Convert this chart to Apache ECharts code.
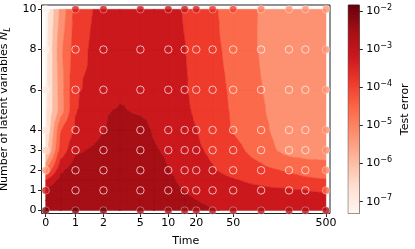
<!DOCTYPE html>
<html><head><meta charset="utf-8">
<script src="https://cdn.jsdelivr.net/npm/echarts@6/dist/echarts.min.js"></script>
<style>html,body{margin:0;padding:0;background:#fff}#c{width:415px;height:249px}</style>
</head><body><div id="c"></div><script>
// ---------- data ----------
const surfTimes   = [0, 0.5, 1, 2, 3, 5, 7, 10, 15, 20, 30, 50, 100, 200, 300, 500];
const surfLatents = [0, 0.5, 1, 1.5, 2, 3, 4, 5, 6, 8, 10];
// log10(test error) of the predicted surface, one row per latent value
const surfN0   = [-2.25,-2.25,-2.25,-2.28,-2.3,-2.35,-2.4,-2.5,-2.6,-2.7,-2.83,-2.95,-3.05,-3.1,-3.12,-3.15];
const surfN0_5 = [-2.4,-2.35,-2.3,-2.3,-2.3,-2.35,-2.4,-2.55,-2.7,-2.87,-3.0,-3.1,-3.2,-3.25,-3.3,-3.35];
const surfN1   = [-2.6,-2.4,-2.3,-2.25,-2.25,-2.3,-2.4,-2.6,-2.9,-3.05,-3.2,-3.3,-3.4,-3.48,-3.55,-3.62];
const surfN1_5 = [-3.6,-2.6,-2.35,-2.25,-2.25,-2.3,-2.45,-2.7,-3.07,-3.2,-3.35,-3.5,-3.72,-3.95,-4.1,-4.2];
const surfN2   = [-5.0,-3.0,-2.45,-2.3,-2.35,-2.4,-2.55,-2.85,-3.1,-3.3,-3.5,-3.75,-4.05,-4.34,-4.5,-4.6];
const surfN3   = [-6.7,-4.0,-3.0,-2.65,-2.45,-2.5,-2.8,-2.99,-3.25,-3.45,-3.67,-4.0,-4.59,-5.19,-5.25,-5.25];
const surfN4   = [-7.1,-4.3,-3.45,-2.9,-2.57,-2.6,-2.95,-3.1,-3.3,-3.54,-3.85,-4.29,-4.75,-5.32,-5.35,-5.35];
const surfN5   = [-7.15,-5.3,-3.6,-2.95,-2.81,-2.98,-3.0,-3.1,-3.4,-3.68,-3.95,-4.32,-4.85,-5.29,-5.3,-5.3];
const surfN6   = [-7.2,-5.25,-3.62,-3.32,-3.0,-3.0,-3.05,-3.15,-3.45,-3.82,-4.0,-4.35,-4.9,-5.27,-5.3,-5.3];
const surfN8   = [-7.25,-5.1,-3.87,-3.16,-3.05,-3.0,-3.05,-3.2,-3.53,-3.75,-4.05,-4.48,-4.98,-5.2,-5.25,-5.3];
const surfN10  = [-7.32,-5.43,-4.0,-3.28,-3.2,-3.15,-3.15,-3.25,-3.62,-3.8,-4.1,-4.66,-4.97,-5.2,-5.25,-5.3];
const surfLogErr = [surfN0, surfN0_5, surfN1, surfN1_5, surfN2, surfN3, surfN4, surfN5, surfN6, surfN8, surfN10];

const obsTimes   = [0, 1, 2, 5, 10, 15, 20, 30, 50, 100, 200, 300, 500];
const obsLatents = [0, 1, 2, 3, 4, 6, 8, 10];
// log10(test error) of the filled (edge) points
const obsLeft   = [-1.95,-3.27,-5.35,-6.34,-6.78,-6.94,-7.16,-7.31];          // time 0, by latent
const obsRight  = [-2.72,-4.47,-5.0,-5.1,-5.2,-5.27,-5.27,-5.27];             // time 500, by latent
const obsBottom = [-1.95,-2.0,-2.05,-2.35,-2.45,-2.5,-2.55,-2.6,-2.65,-2.7,-2.7,-2.72,-2.72]; // latent 0, by time
const obsTop    = [-7.31,-3.43,-3.21,-3.1,-3.05,-3.1,-3.3,-3.7,-4.0,-4.9,-5.3,-5.3,-5.27];   // latent 10, by time

const xTicks = [0, 1, 2, 5, 10, 20, 50, 500];
const yTicks = [0, 1, 2, 3, 4, 6, 8, 10];
const cbarTicks = [-7, -6, -5, -4, -3, -2];
const contourLevels = [-6.98, -6.29, -5.61, -4.92, -4.24, -3.55, -2.87, -2.18];
const colorMin = -7.31, colorMax = -1.843;

// ---------- helpers ----------
const FONT = 'DejaVu Sans';
const FS = 11;
const LIN = 0.3215;
const sx = t => t <= 1 ? t * LIN : LIN + Math.log10(t);
const REDS = ['#fff5f0','#fee0d2','#fcbba1','#fc9272','#fb6a4a','#ef3b2c','#cb181d','#a50f15','#67000d'];
const REDS_RGB = REDS.map(h => [1,3,5].map(i => parseInt(h.slice(i, i+2), 16)));
function reds(f) {
  f = Math.max(0, Math.min(1, f));
  const p = f * 8, i = Math.min(7, Math.floor(p)), t = p - i;
  const a = REDS_RGB[i], b = REDS_RGB[i+1];
  return 'rgb(' + a.map((v, k) => Math.round(v + t * (b[k] - v))).join(',') + ')';
}
const norm = v => (v - colorMin) / (colorMax - colorMin);

function clip(poly, level, keepAbove) {
  const out = [];
  for (let i = 0; i < poly.length; i++) {
    const a = poly[i], b = poly[(i + 1) % poly.length];
    const ina = keepAbove ? a[2] >= level : a[2] < level;
    const inb = keepAbove ? b[2] >= level : b[2] < level;
    if (ina) out.push(a);
    if (ina !== inb) {
      const t = (level - a[2]) / (b[2] - a[2]);
      out.push([a[0] + t * (b[0] - a[0]), a[1] + t * (b[1] - a[1]), level]);
    }
  }
  return out;
}

function renderContour(params, api) {
  const P = surfLatents.map((n, j) => surfTimes.map((t, i) => {
    const c = api.coord([sx(t), n]);
    return [c[0], c[1], surfLogErr[j][i]];
  }));
  const nb = contourLevels.length + 1;
  const paths = Array.from({length: nb}, () => []);
  for (let j = 0; j < surfLatents.length - 1; j++) {
    for (let i = 0; i < surfTimes.length - 1; i++) {
      const a = P[j][i], b = P[j][i+1], c = P[j+1][i+1], d = P[j+1][i];
      const m = [0,1,2].map(k => (a[k] + b[k] + c[k] + d[k]) / 4);
      for (const tri of [[a,b,m],[b,c,m],[c,d,m],[d,a,m]]) {
        for (let k = 0; k < nb; k++) {
          let poly = tri;
          if (k > 0) poly = clip(poly, contourLevels[k-1], true);
          if (poly.length < 3) continue;
          if (k < nb - 1) poly = clip(poly, contourLevels[k], false);
          if (poly.length < 3) continue;
          paths[k].push('M' + poly.map(p => p[0].toFixed(2) + ' ' + p[1].toFixed(2)).join('L') + 'Z');
        }
      }
    }
  }
  const children = [];
  paths.forEach((p, k) => {
    if (p.length) children.push({type: 'path', shape: {pathData: p.join('')},
      style: {fill: REDS[k], stroke: REDS[k], lineWidth: 0.5}});
  });
  return {type: 'group', children};
}

function renderCbar(params, api) {
  const p0 = api.coord([0, colorMax]), p1 = api.coord([1, colorMin]);
  return {type: 'rect', shape: {x: p0[0], y: p0[1], width: p1[0] - p0[0], height: p1[1] - p0[1]},
    style: {fill: {type: 'linear', x: 0, y: 0, x2: 0, y2: 1,
      colorStops: REDS.slice().reverse().map((c, i) => ({offset: i / 8, color: c}))}}};
}

// points
const filled = [], hollow = [];
obsLatents.forEach((n, j) => obsTimes.forEach((t, i) => {
  let v = null;
  if (i === 0) v = obsLeft[j];
  else if (i === obsTimes.length - 1) v = obsRight[j];
  else if (j === 0) v = obsBottom[i];
  else if (j === obsLatents.length - 1) v = obsTop[i];
  if (v === null) hollow.push([sx(t), n]); else filled.push([sx(t), n, v]);
}));

const tickStyle = {show: true, inside: false, length: 3.5, lineStyle: {color: '#222', width: 1}};
const labelBase = {color: '#000', fontFamily: FONT, fontSize: FS};

const chart = echarts.init(document.getElementById('c'), null, {renderer: 'canvas'});
chart.setOption({
  animation: false,
  backgroundColor: '#fff',
  grid: [
    {left: 41.5, top: 5, width: 288.5, height: 208.5, show: true, borderColor: '#222', borderWidth: 1,
     backgroundColor: 'transparent', containLabel: false, outerBoundsMode: 'none'},
    {left: 348.3, top: 5, width: 11, height: 208.5, show: true, borderColor: '#333', borderWidth: 1,
     backgroundColor: 'transparent', containLabel: false, outerBoundsMode: 'none'}
  ],
  xAxis: [
    {type: 'value', gridIndex: 0, min: -0.045, max: 3.064,
     axisLine: {show: false, onZero: false}, splitLine: {show: false},
     axisTick: Object.assign({customValues: xTicks.map(sx)}, tickStyle),
     axisLabel: Object.assign({customValues: xTicks.map(sx), margin: 4,
       formatter: v => { const t = xTicks.find(q => Math.abs(sx(q) - v) < 1e-6); return t === undefined ? '' : String(t); }}, labelBase),
     name: 'Time', nameLocation: 'middle', nameGap: 22, nameTextStyle: labelBase},
    {type: 'value', gridIndex: 1, min: 0, max: 1, show: false}
  ],
  yAxis: [
    {type: 'value', gridIndex: 0, min: -0.149, max: 10.214,
     axisLine: {show: false, onZero: false}, splitLine: {show: false},
     axisTick: Object.assign({customValues: yTicks}, tickStyle),
     axisLabel: Object.assign({customValues: yTicks, margin: 5}, labelBase),
     name: '{a|Number of latent variables }{n|N}{l|L}', nameLocation: 'middle', nameRotate: 90, nameGap: 23,
     nameTextStyle: Object.assign({rich: {
       a: {fontFamily: FONT, fontSize: FS, color: '#000', lineHeight: 14},
       n: {fontFamily: FONT, fontSize: FS, color: '#000', fontStyle: 'italic', lineHeight: 14},
       l: {fontFamily: FONT, fontSize: 8, color: '#000', fontStyle: 'italic', verticalAlign: 'bottom', lineHeight: 14}
     }}, labelBase)},
    {type: 'value', gridIndex: 1, min: colorMin, max: colorMax, position: 'right',
     axisLine: {show: false, onZero: false}, splitLine: {show: false},
     axisTick: Object.assign({customValues: cbarTicks}, tickStyle),
     axisLabel: Object.assign({customValues: cbarTicks, margin: 7,
       formatter: v => '{b|10}{s|\u2212' + Math.abs(Math.round(v)) + '}',
       rich: {
         b: {fontFamily: FONT, fontSize: FS, color: '#000', lineHeight: 15},
         s: {fontFamily: FONT, fontSize: 8, color: '#000', verticalAlign: 'top', lineHeight: 15}
       }}, labelBase),
     name: 'Test error', nameLocation: 'middle', nameRotate: 90, nameGap: 40, nameTextStyle: labelBase}
  ],
  series: [
    {type: 'custom', xAxisIndex: 0, yAxisIndex: 0, data: [[1.5, 5]], renderItem: renderContour, silent: true, z: 1},
    {type: 'custom', xAxisIndex: 1, yAxisIndex: 1, data: [[0.5, -4]], renderItem: renderCbar, silent: true, z: 1},
    {type: 'scatter', xAxisIndex: 0, yAxisIndex: 0, data: hollow, symbolSize: 7.5, z: 3, silent: true,
     itemStyle: {color: 'rgba(0,0,0,0)', borderColor: 'rgba(255,255,255,0.85)', borderWidth: 1}},
    {type: 'scatter', xAxisIndex: 0, yAxisIndex: 0, data: filled, symbolSize: 7.5, z: 4, silent: true,
     itemStyle: {color: p => reds(norm(p.value[2])), borderColor: 'rgba(255,255,255,0.55)', borderWidth: 0.8}}
  ]
});
</script></body></html>
